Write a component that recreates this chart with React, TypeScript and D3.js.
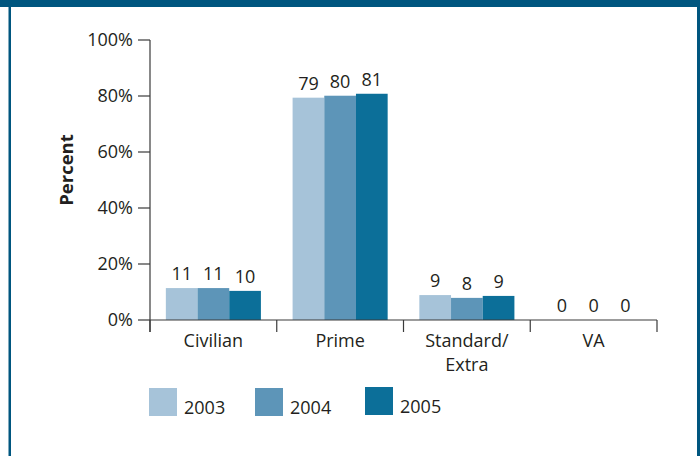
import React from "react";
import * as d3 from "d3";

const categories = ["Civilian", "Prime", "Standard/\nExtra", "VA"];
const years = ["2003", "2004", "2005"];
const values2003 = [11.4, 79.4, 8.9, 0];
const values2004 = [11.4, 80.1, 7.9, 0];
const values2005 = [10.4, 80.8, 8.6, 0];
const labels2003 = ["11", "79", "9", "0"];
const labels2004 = ["11", "80", "8", "0"];
const labels2005 = ["10", "81", "9", "0"];
const yTicks = [0, 20, 40, 60, 80, 100];
const colors = ["#a6c3d9", "#5d95b8", "#0c6f99"];

const series = [values2003, values2004, values2005];
const seriesLabels = [labels2003, labels2004, labels2005];

const W = 700;
const H = 456;
const FONT = "'Open Sans', sans-serif";
const TEXT = "#231f20";
const AXIS = "#3a3a3a";

export default function App() {
  const x = d3.scaleBand<string>().domain(categories).range([150, 657]).padding(0);
  const xs = d3
    .scaleBand<string>()
    .domain(years)
    .range([0, x.bandwidth()])
    .paddingInner(0)
    .paddingOuter(0.5);
  const y = d3.scaleLinear().domain([0, 100]).range([320, 40]);
  const boundaries = [...categories.map((c) => x(c) as number), 657];

  return (
    <svg
      width={W}
      height={H}
      style={{ position: "fixed", left: 0, top: 0, background: "#fff" }}
      fontFamily={FONT}
    >
      <rect x={0} y={0} width={W} height={H} fill="#fff" />
      {/* frame */}
      <rect x={0} y={0} width={W} height={7} fill="#00567f" />
      <rect x={8.5} y={0} width={2.5} height={H} fill="#00567f" />
      <rect x={697} y={0} width={3} height={H} fill="#00567f" />

      {/* bars */}
      {series.map((vals, si) =>
        categories.map((c, ci) => {
          const bx = (x(c) as number) + (xs(years[si]) as number);
          return (
            <rect
              key={`b${si}-${ci}`}
              x={bx}
              y={y(vals[ci])}
              width={xs.bandwidth()}
              height={y(0) - y(vals[ci])}
              fill={colors[si]}
            />
          );
        })
      )}

      {/* value labels */}
      {series.map((vals, si) =>
        categories.map((c, ci) => {
          const bx = (x(c) as number) + (xs(years[si]) as number) + xs.bandwidth() / 2;
          return (
            <text
              key={`l${si}-${ci}`}
              x={bx}
              y={y(vals[ci]) - 8}
              textAnchor="middle"
              fontSize={18}
              fill={TEXT}
            >
              {seriesLabels[si][ci]}
            </text>
          );
        })
      )}

      {/* y axis */}
      <line x1={150} x2={150} y1={y(100)} y2={332} stroke={AXIS} strokeWidth={1.2} />
      {yTicks.map((t) => (
        <g key={`yt${t}`}>
          <line x1={138} x2={150} y1={y(t)} y2={y(t)} stroke={AXIS} strokeWidth={1.2} />
          <text x={133} y={y(t)} dy={6} textAnchor="end" fontSize={18} fill={TEXT}>
            {`${t}%`}
          </text>
        </g>
      ))}
      <text
        transform={`translate(73,170) rotate(-90)`}
        textAnchor="middle"
        fontSize={18.5}
        fontWeight="bold"
        fill={TEXT}
      >
        Percent
      </text>

      {/* x axis */}
      <line x1={150} x2={657} y1={y(0)} y2={y(0)} stroke={AXIS} strokeWidth={1.2} />
      {boundaries.map((bx, i) => (
        <line key={`xt${i}`} x1={bx} x2={bx} y1={y(0)} y2={332} stroke={AXIS} strokeWidth={1.2} />
      ))}
      {categories.map((c) => (
        <text
          key={`xl${c}`}
          x={(x(c) as number) + x.bandwidth() / 2}
          y={347}
          textAnchor="middle"
          fontSize={18}
          fill={TEXT}
        >
          {c.split("\n").map((line, i) => (
            <tspan key={i} x={(x(c) as number) + x.bandwidth() / 2} dy={i === 0 ? 0 : 23.5}>
              {line}
            </tspan>
          ))}
        </text>
      ))}

      {/* legend */}
      {years.map((yr, i) => {
        const lx = [149, 255, 365][i];
        const ly = [388, 388, 387][i];
        return (
          <g key={`lg${yr}`}>
            <rect x={lx} y={ly} width={28} height={28} fill={colors[i]} />
            <text x={lx + 35} y={ly + 26} fontSize={18} fill={TEXT}>
              {yr}
            </text>
          </g>
        );
      })}
    </svg>
  );
}
